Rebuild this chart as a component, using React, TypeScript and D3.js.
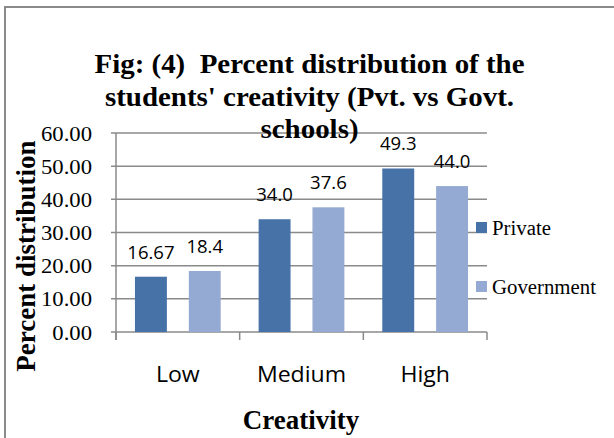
import React from "react";
import * as d3 from "d3";

const categories = ["Low", "Medium", "High"];
const seriesNames = ["Private", "Government"];
const privateValues = [16.67, 34.0, 49.3];
const governmentValues = [18.4, 37.6, 44.0];
const valueLabels = [
  ["16.67", "34.0", "49.3"],
  ["18.4", "37.6", "44.0"],
];
const yTicks = [0, 10, 20, 30, 40, 50, 60];
const titleLines = [
  "Fig: (4)  Percent distribution of the",
  "students' creativity (Pvt. vs Govt.",
  "schools)",
];
const colors = ["#4672A8", "#95AAD2"];

const W = 614;
const H = 438;
const plot = { left: 116, right: 487, top: 133, bottom: 332 };
const serif = "'Liberation Serif', 'Times New Roman', serif";
const sans = "'Open Sans', 'Liberation Sans', sans-serif";

function T(props: {
  x: number;
  y: number;
  sx?: number;
  anchor?: string;
  family: string;
  size: number;
  bold?: boolean;
  dy?: string;
  children: React.ReactNode;
}) {
  const { x, y, sx = 1, anchor = "start", family, size, bold, dy, children } = props;
  return (
    <text
      transform={`translate(${x},${y}) scale(${sx},1)`}
      x={0}
      y={0}
      dy={dy}
      textAnchor={anchor}
      fontFamily={family}
      fontSize={size}
      fontWeight={bold ? "bold" : "normal"}
      style={{ whiteSpace: "pre" }}
      fill="#000"
    >
      {children}
    </text>
  );
}

export default function App() {
  const x = d3
    .scaleBand<string>()
    .domain(categories)
    .range([plot.left, plot.right])
    .paddingInner(0)
    .paddingOuter(0);
  const xs = d3
    .scaleBand<string>()
    .domain(seriesNames)
    .range([0, x.bandwidth()])
    .paddingInner(0.407)
    .paddingOuter(0.352);
  const y = d3.scaleLinear().domain([0, 60]).range([plot.bottom, plot.top]);
  const series = [privateValues, governmentValues];
  const grid = "#8a8a8a";
  const boundaries = [...categories.map((c) => x(c) as number), plot.right];

  return (
    <svg
      width={W}
      height={H}
      style={{ position: "absolute", left: 0, top: 0, background: "#fff" }}
    >
      <rect x={0} y={0} width={W} height={H} fill="#fff" />
      {/* outer frame */}
      <path d={`M5,${H} L5,7 L${W},7`} fill="none" stroke="#8a8a8a" strokeWidth={2} />

      {/* gridlines */}
      {yTicks.map((t) => (
        <line
          key={"g" + t}
          x1={plot.left - 5}
          x2={plot.right}
          y1={y(t)}
          y2={y(t)}
          stroke={grid}
          strokeWidth={1.5}
        />
      ))}
      {/* y axis line */}
      <line x1={plot.left} x2={plot.left} y1={plot.top} y2={plot.bottom + 8} stroke={grid} strokeWidth={1.5} />
      {/* x ticks */}
      {boundaries.map((b, i) => (
        <line key={"xt" + i} x1={b} x2={b} y1={plot.bottom} y2={plot.bottom + 8} stroke={grid} strokeWidth={1.5} />
      ))}

      {/* y tick labels */}
      {yTicks.map((t) => (
        <T key={"yl" + t} x={92} y={y(t)} dy="0.36em" anchor="end" family={serif} size={21} sx={1.08}>
          {t.toFixed(2)}
        </T>
      ))}

      {/* bars */}
      {series.map((vals, si) =>
        vals.map((v, ci) => {
          const bx = (x(categories[ci]) as number) + (xs(seriesNames[si]) as number);
          return (
            <rect
              key={`b${si}-${ci}`}
              x={bx}
              y={y(v)}
              width={xs.bandwidth()}
              height={y(0) - y(v)}
              fill={colors[si]}
            />
          );
        })
      )}

      {/* title */}
      {titleLines.map((l, i) => (
        <T key={"t" + i} x={309.5} y={73 + i * 32.5} anchor="middle" family={serif} size={27} bold sx={1.072}>
          {l}
        </T>
      ))}

      {/* value labels */}
      {series.map((vals, si) =>
        vals.map((v, ci) => {
          const cx =
            (x(categories[ci]) as number) + (xs(seriesNames[si]) as number) + xs.bandwidth() / 2;
          return (
            <T key={`v${si}-${ci}`} x={cx} y={y(v) - 18} anchor="middle" family={sans} size={18} sx={1.03}>
              {valueLabels[si][ci]}
            </T>
          );
        })
      )}

      {/* category labels */}
      {categories.map((c) => (
        <T
          key={"c" + c}
          x={(x(c) as number) + x.bandwidth() / 2}
          y={382}
          anchor="middle"
          family={sans}
          size={21}
          sx={1.1}
        >
          {c}
        </T>
      ))}

      {/* axis titles */}
      <T x={301} y={429} anchor="middle" family={serif} size={27} bold sx={1.0}>
        Creativity
      </T>
      <text
        transform={`translate(35,256) rotate(-90)`}
        textAnchor="middle"
        fontFamily={serif}
        fontWeight="bold"
        fontSize={27}
        fill="#000"
      >
        Percent distribution
      </text>

      {/* legend */}
      {seriesNames.map((s, i) => (
        <g key={"lg" + s} transform={`translate(476,${222 + i * 59})`}>
          <rect x={0} y={0} width={11} height={11} fill={colors[i]} />
          <T x={16} y={13} family={serif} size={20} sx={1.04}>
            {s}
          </T>
        </g>
      ))}
    </svg>
  );
}
